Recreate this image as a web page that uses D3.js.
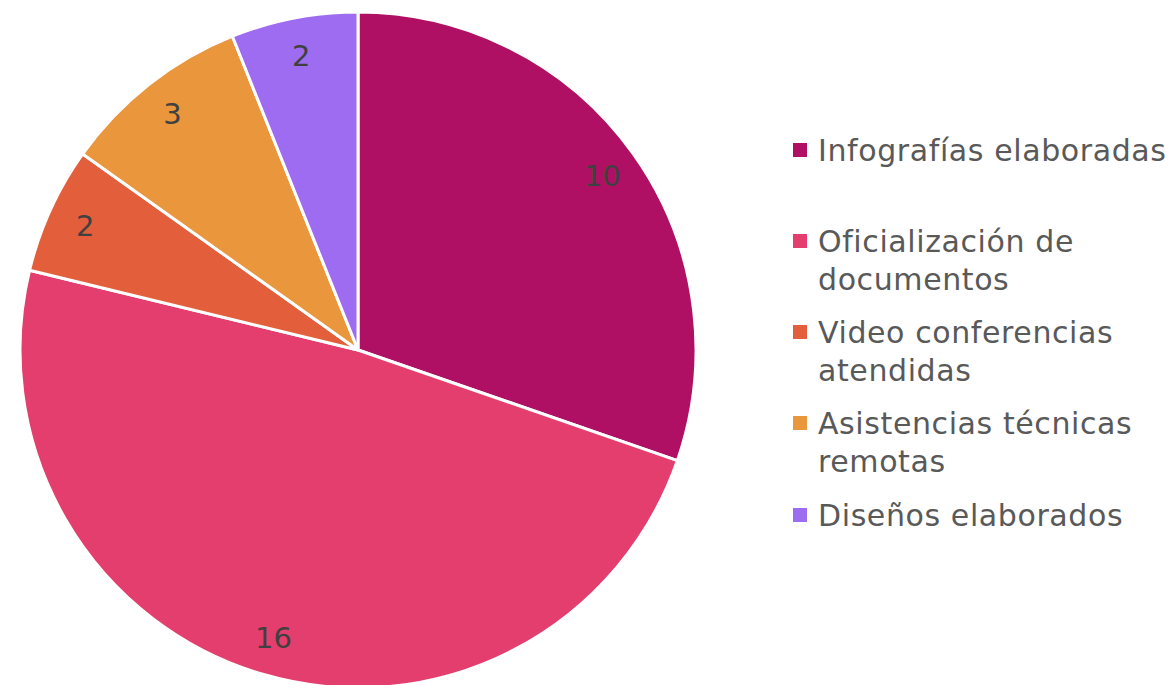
<!DOCTYPE html>
<html><head><meta charset="utf-8">
<script src="https://cdn.jsdelivr.net/npm/d3@7"></script>
<style>body{margin:0;background:#fff}svg{display:block}</style>
</head><body>
<svg id="c" width="1176" height="685"></svg>
<script>
const categories = ["Infografías elaboradas","Oficialización de documentos","Video conferencias atendidas","Asistencias técnicas remotas","Diseños elaborados"];
const legendLines = [["Infografías elaboradas"],["Oficialización de","documentos"],["Video conferencias","atendidas"],["Asistencias técnicas","remotas"],["Diseños elaborados"]];
const values = [10,16,2,3,2];
const colors = ["#B01063","#E33E6E","#E35F3C","#E9963C","#9D6CF0"];

const svg = d3.select("#c");
const cx = 358, cy = 350, R = 338;
const data = categories.map((c,i)=>({cat:c,value:values[i],color:colors[i]}));
const pie = d3.pie().value(d=>d.value).sort(null);
const arc = d3.arc().innerRadius(0).outerRadius(R);
const labelArc = d3.arc().innerRadius(300).outerRadius(300);
const g = svg.append("g").attr("transform",`translate(${cx},${cy})`);
const arcs = pie(data);
g.selectAll("path").data(arcs).join("path")
  .attr("d",arc).attr("fill",d=>d.data.color)
  .attr("stroke","#fff").attr("stroke-width",3).attr("stroke-linejoin","round");
g.selectAll("text").data(arcs).join("text")
  .attr("transform",d=>`translate(${labelArc.centroid(d)})`)
  .attr("text-anchor","middle").attr("dy","0.35em")
  .attr("font-family","'DejaVu Sans', sans-serif").attr("font-size",29)
  .attr("fill","#404040").text(d=>d.data.value);

const lg = svg.append("g");
const ly = [150,241,332,423,515];
legendLines.forEach((lines,i)=>{
  lg.append("rect").attr("x",793).attr("y",ly[i]-7).attr("width",14).attr("height",14).attr("fill",colors[i]);
  lines.forEach((t,j)=>{
    lg.append("text").attr("x",818).attr("y",ly[i]+j*38).attr("dy","0.35em")
      .attr("font-family","'DejaVu Sans', sans-serif").attr("font-size",30)
      .attr("letter-spacing","0.6px")
      .attr("fill","#595959").text(t);
  });
});
</script>
</body></html>
